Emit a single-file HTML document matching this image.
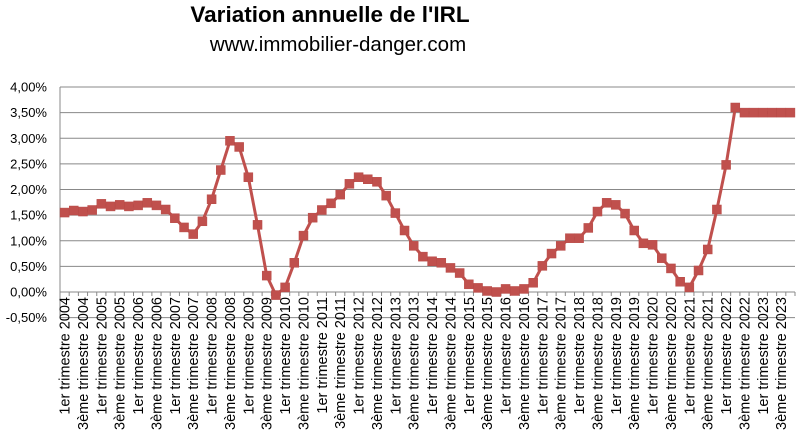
<!DOCTYPE html>
<html><head><meta charset="utf-8"><style>
html,body{margin:0;padding:0;background:#fff;}
svg{display:block;font-family:"Liberation Sans",Calibri,sans-serif;}
</style></head><body>
<svg id="chart" width="802" height="438" viewBox="0 0 802 438" xmlns="http://www.w3.org/2000/svg">
<text x="330" y="22" text-anchor="middle" font-size="22.5" font-weight="bold" fill="#000">Variation annuelle de l'IRL</text>
<text x="338" y="51" text-anchor="middle" font-size="20.5" fill="#000">www.immobilier-danger.com</text>
<g id="grid"></g>
<g id="yaxis"></g>
<g id="xaxis"></g>
<g id="series"></g>
</svg>
<script>
const years = [2004,2005,2006,2007,2008,2009,2010,2011,2012,2013,2014,2015,2016,2017,2018,2019,2020,2021,2022,2023];
const values = [
1.55,1.59,1.57,1.60, 1.72,1.67,1.70,1.67, 1.69,1.74,1.69,1.61, 1.44,1.26,1.13,1.38,
1.81,2.38,2.95,2.83, 2.24,1.31,0.32,-0.06, 0.09,0.57,1.10,1.45, 1.60,1.73,1.90,2.11,
2.24,2.20,2.15,1.88, 1.54,1.20,0.90,0.69, 0.60,0.57,0.47,0.37, 0.15,0.08,0.02,0.00,
0.06,0.02,0.06,0.18, 0.51,0.75,0.90,1.05, 1.05,1.25,1.57,1.74, 1.70,1.53,1.20,0.95,
0.92,0.66,0.46,0.20, 0.09,0.42,0.83,1.61, 2.48,3.60,3.50,3.50, 3.50,3.50,3.50,3.50];
const yTicks = [-0.5,0,0.5,1,1.5,2,2.5,3,3.5,4];
const quarterNames = ["1er trimestre","3ème trimestre"];

const NS="http://www.w3.org/2000/svg";
const L=60,R=795,yTop=87,yZero=292,pxPer=(yZero-yTop)/4;
const n=values.length, band=(R-L)/n;
const ys=v=>yZero-v*pxPer;
const xs=i=>L+band*(i+0.5);
function mk(tag,attrs,parent){const e=document.createElementNS(NS,tag);for(const k in attrs)e.setAttribute(k,attrs[k]);parent.appendChild(e);return e;}
const grid=document.getElementById('grid'),ya=document.getElementById('yaxis'),xa=document.getElementById('xaxis'),se=document.getElementById('series');
yTicks.forEach(t=>{
  if(t!==0){const g=mk('line',{x1:L,x2:R,y1:ys(t),y2:ys(t),stroke:'#888','stroke-width':1},grid);
  
  }
  const tx=mk('text',{x:L-13,y:ys(t)+4.5,'text-anchor':'end','font-size':13,fill:'#000'},ya);
  
  
  tx.textContent=t.toFixed(2).replace('.',',')+'%';
});
mk('line',{x1:L,x2:L,y1:yTop,y2:ys(-0.5),stroke:'#888'},ya);
mk('line',{x1:L,x2:R,y1:yZero,y2:yZero,stroke:'#888'},xa);
for(let i=0;i<=n;i++){mk('line',{x1:L+band*i,x2:L+band*i,y1:yZero,y2:yZero+4,stroke:'#888'},xa);}
for(let i=0;i<n;i+=2){
  const lbl=quarterNames[(i/2)%2]+' '+years[Math.floor(i/4)];
  const x=xs(i)+5,y=297;
  const tx=mk('text',{x:x,y:y,'text-anchor':'end','font-size':14.5,fill:'#000',transform:`rotate(-90 ${x} ${y})`},xa);
  
  
  tx.textContent=lbl;
}
const pts=values.map((v,i)=>xs(i).toFixed(1)+','+ys(v).toFixed(1)).join(' ');
const pl=mk('polyline',{points:pts,fill:'none',stroke:'#C0504D','stroke-width':3,'stroke-linejoin':'round'},se);


values.forEach((v,i)=>{
  const r=mk('rect',{x:xs(i)-4.5,y:ys(v)-4.5,width:9,height:9,fill:'#C0504D',stroke:'#B84A47','stroke-width':0.5},se);
  
  
});
</script>
</body></html>
